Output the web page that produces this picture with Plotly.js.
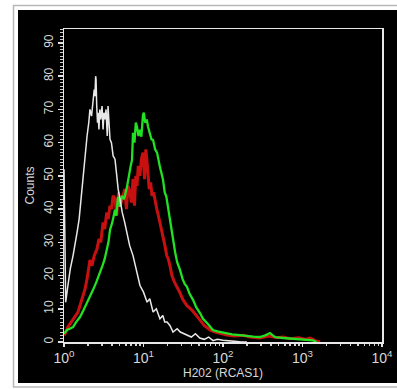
<!DOCTYPE html>
<html>
<head>
<meta charset="utf-8">
<script src="https://cdn.plot.ly/plotly-3.0.1.min.js"></script>
<style>html,body{margin:0;padding:0;background:#fff;}#chart{width:397px;height:389px;}</style>
</head>
<body>
<div id="chart"></div>
<script>
// Isotype control (white)
const whiteX = [1.00,1.05,1.12,1.20,1.30,1.40,1.46,1.55,1.65,1.75,1.84,1.95,2.05,2.12,2.22,2.32,2.40,2.45,2.50,2.53,2.58,2.64,2.68,2.75,2.82,2.90,3.01,3.10,3.18,3.28,3.38,3.50,3.58,3.68,3.79,3.95,4.15,4.38,4.60,4.80,5.06,5.40,5.80,6.20,6.70,7.38,8.10,9.03,10.0,11.1,12.0,13.2,14.5,16.1,17.5,18.5,19.8,21.5,23.5,26.5,29.0,32.0,35.3,40.0,45.0,51.0,58.0,66.0,75.0,85.0,100,115,140,170,200];
const whiteY = [52,12,17,22,26,30,33,37,44,50,57,62,66,70,68,73,76,74,80,79,71,66,69,64,70,67,71,64,69,67,70,62,71,65,61,60,56,55,50,46,43,39,36,33,29,26,22,17,15,12,13,9,10,7,8,6,6,5,3,4,3,2.5,2,1.5,2.5,1.2,0.8,1.5,0.4,0.8,0.5,0.3,0.2,0,0];

// Red histogram
const redX = [1.00,1.06,1.12,1.20,1.30,1.40,1.50,1.59,1.70,1.84,1.95,2.05,2.12,2.25,2.40,2.60,2.75,2.90,3.10,3.25,3.45,3.60,3.79,3.95,4.15,4.38,4.60,4.85,5.10,5.52,5.80,6.10,6.40,6.76,7.05,7.38,7.70,8.00,8.28,8.60,9.03,9.40,9.86,10.3,10.7,11.1,11.4,11.8,12.3,12.8,13.4,14.0,14.7,15.4,16.1,17.0,17.8,18.6,19.6,20.5,21.5,22.8,24.5,26.4,28.5,31.4,35.0,40.7,45.5,51.4,58,68.6,80,95,112,140,180,219,290,380,480,569,700,900,1100,1240,1450,1660];
const redY = [2,3,4.5,5.5,6.6,8,9,11,13,16,19,22,24.7,23,26,28,31,30,36,34,39,37,41,40,44,43,38,45,41,44,46,40,47,45,42,49,41,50,47,53,50,55,57,49,58,54,51,46,48,44,45,42,40,38,36,33,31,29,26,25,23,20,18,16.6,15,12.7,11,9.6,8,6.6,5,3.6,3,2.5,2.1,1.8,2,1.5,1.2,1.8,1.3,1.5,1.0,1.3,0.8,1.2,0.4,0];

// Green histogram
const greenX = [1.00,1.05,1.09,1.18,1.30,1.42,1.59,1.75,1.95,2.12,2.32,2.55,2.84,3.05,3.25,3.47,3.62,3.79,4.05,4.38,4.55,4.78,5.06,5.35,5.70,6.20,6.60,6.90,7.17,7.38,7.70,8.00,8.28,8.65,9.03,9.40,9.86,10.1,10.5,11.0,11.4,12.0,12.6,13.2,14.0,14.8,15.5,16.1,16.8,17.6,18.5,19.4,20.3,21.5,22.5,23.5,25.0,26.5,28.8,31.0,33.0,35.2,38.0,42.0,46.0,51.4,56.0,63,68.6,74.8,85,100,112,130,163,200,240,292,340,390,450,569,700,930,1100,1350,1500];
const greenY = [2.5,3,3.6,4,4.5,6,7.5,9.5,11.7,13.5,15.7,18,20.8,23,25,27.7,30,33.7,36,39.8,38,43.7,40.7,44,43,46.7,51,53,54.8,63,60,66,64.8,62,63.9,61.8,68.4,69,66,67,64.8,63,61,60.8,58,57,54,52.7,50.9,48.8,45,43.7,40.7,36.7,33,29.8,27,24,21.7,19,17.5,16.6,14.5,12.7,10.5,8.7,7,5.7,4.5,3.6,3.2,2.8,2.7,2.3,2.1,1.8,1.6,1.5,2.0,2.7,1.5,1.2,1.0,0.8,0.6,0.5,0];

const xTickVals = [1,10,100,1000,10000];
const xTickText = ['10<sup>0</sup>','10<sup>1</sup>','10<sup>2</sup>','10<sup>3</sup>','10<sup>4</sup>'];
const yTickVals = [0,10,20,30,40,50,60,70,80,90];

const fontFam = 'Liberation Sans, Arial, sans-serif';
const txtCol = '#d8d8d8';

const traces = [
  {x: redX, y: redY, type: 'scatter', mode: 'lines', line: {color: '#c81010', width: 3}, hoverinfo: 'skip'},
  {x: greenX, y: greenY, type: 'scatter', mode: 'lines', line: {color: '#22e022', width: 2.3}, hoverinfo: 'skip'},
  {x: whiteX, y: whiteY, type: 'scatter', mode: 'lines', line: {color: '#e8e8e8', width: 1.5}, hoverinfo: 'skip'}
];

// plot area: x 64..382, y 29..342 (px)
const L = 64, R = 382, T = 29, B = 342;
const px = v => (v - L) / (R - L);
const py = v => (B - v) / (B - T);

const layout = {
  width: 397, height: 389,
  margin: {l: L, r: 397 - R, t: T, b: 389 - B, pad: 0},
  paper_bgcolor: '#ffffff',
  plot_bgcolor: '#000000',
  showlegend: false,
  font: {family: fontFam, color: txtCol, size: 11},
  shapes: [
    {type: 'rect', xref: 'paper', yref: 'paper', x0: px(13.5), x1: px(402), y0: py(387), y1: py(5.5),
     line: {color: '#b8b8b8', width: 1.5}, fillcolor: 'rgba(0,0,0,0)', layer: 'below'},
    {type: 'rect', xref: 'paper', yref: 'paper', x0: px(18), x1: px(400), y0: py(383), y1: py(10),
     line: {width: 0}, fillcolor: '#000000', layer: 'below'}
  ],
  xaxis: {
    type: 'log', range: [0, 4],
    tickmode: 'array', tickvals: xTickVals, ticktext: xTickText,
    ticks: 'outside', ticklen: 3, tickwidth: 1.5, tickcolor: '#e0e0e0',
    minor: {dtick: 'D1', ticks: 'outside', ticklen: 2, tickwidth: 1.5, tickcolor: '#d0d0d0', showgrid: false},
    showline: true, linecolor: '#e8e8e8', linewidth: 1.5, mirror: true,
    showgrid: false, zeroline: false,
    tickfont: {family: fontFam, color: txtCol, size: 14},
    title: {text: 'H202 (RCAS1)', font: {family: fontFam, color: txtCol, size: 12}, standoff: 1}
  },
  yaxis: {
    range: [0, 94.2],
    tickmode: 'array', tickvals: yTickVals,
    tickangle: -90,
    ticks: 'outside', ticklen: 5, tickwidth: 1.5, tickcolor: '#e0e0e0',
    minor: {dtick: 1, ticks: 'outside', ticklen: 3, tickwidth: 1, tickcolor: '#d0d0d0', showgrid: false},
    showline: true, linecolor: '#e8e8e8', linewidth: 1.5, mirror: true,
    showgrid: false, zeroline: false,
    tickfont: {family: fontFam, color: txtCol, size: 12},
    title: {text: 'Counts', font: {family: fontFam, color: txtCol, size: 12}, standoff: 4}
  }
};

Plotly.newPlot('chart', traces, layout, {staticPlot: true, displayModeBar: false});
</script>
</body>
</html>
